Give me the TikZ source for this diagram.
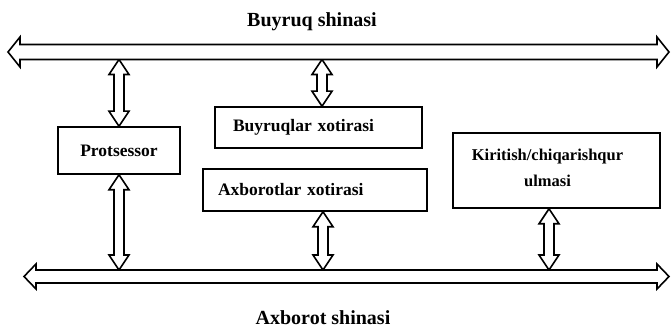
\documentclass[tikz,border=0pt]{standalone}
\usepackage{fontspec}
\setmainfont{Liberation Serif}
\usetikzlibrary{calc}

% hollow horizontal bus with heads at both ends
% #1 left tip, #2 right tip, #3 shaft half width, #4 head half width, #5 head length
\newcommand\busarrow[5]{%
  \draw[hollow] let \p1=#1, \p2=#2 in
    (\x1,\y1) -- (\x1+#5,\y1+#4) -- (\x1+#5,\y1+#3) -- (\x2-#5,\y1+#3)
    -- (\x2-#5,\y1+#4) -- (\x2,\y1) -- (\x2-#5,\y1-#4) -- (\x2-#5,\y1-#3)
    -- (\x1+#5,\y1-#3) -- (\x1+#5,\y1-#4) -- cycle;}

% hollow vertical two-headed connector, #1 upper end, #2 lower end
\newcommand\vconn[2]{%
  \draw[hollow] let \p1=#1, \p2=#2 in
    (\x1,\y1) -- (\x1+10pt,\y1-15pt) -- (\x1+5pt,\y1-15pt) -- (\x1+5pt,\y2+15pt)
    -- (\x1+10pt,\y2+15pt) -- (\x1,\y2) -- (\x1-10pt,\y2+15pt) -- (\x1-5pt,\y2+15pt)
    -- (\x1-5pt,\y1-15pt) -- (\x1-10pt,\y1-15pt) -- cycle;}

\tikzset{
  hollow/.style={draw=black, fill=white, line width=1.6pt, line join=miter},
  unit/.style={draw=black, line width=1.6pt, font=\fontsize{17.5}{24}\selectfont\bfseries,
               inner sep=0pt},
  title/.style={font=\fontsize{20}{24}\selectfont\bfseries, inner sep=0pt}
}

\begin{document}
\begin{tikzpicture}[x=1pt, y=-1pt]
  \useasboundingbox (0,0) rectangle (671,328);

  % bus end points
  \coordinate (topL) at (8,52);
  \coordinate (topR) at (669,52);
  \coordinate (topEdge) at (340,59.5);
  \coordinate (botL) at (24,276.5);
  \coordinate (botR) at (669,276.5);
  \coordinate (botEdge) at (340,270);

  % bus titles
  \node[title] (tbus) at (312,22) {Buyruq shinasi};
  \node[title] (bbus) at (323,318) {Axborot shinasi};

  % functional units
  \node[unit, minimum width=122pt, minimum height=47pt] (proc) at (119,150.5) {Protsessor};
  \node[unit, minimum height=41pt, text width=171pt, inner xsep=18pt, align=left]
       (buyr) at (318.5,127.5) {Buyruqlar xotirasi};
  \node[unit, minimum height=42pt, text width=194pt, inner xsep=15pt, align=left]
       (axb) at (315,190) {Axborotlar xotirasi};
  \node[unit, minimum width=207pt, minimum height=75pt,
        font=\fontsize{16.5}{24}\selectfont\bfseries]
       (kir) at (556.5,170.5)
       {\hspace*{-18pt}\raisebox{24pt}{\begin{tabular}{@{}c@{}}Kiritish/chiqarishqur\\[2pt]ulmasi\end{tabular}}};

  % connectors between units and buses
  \vconn{(proc.north |- topEdge)}{(proc.north)}
  \vconn{(proc.south)}{(proc.south |- botEdge)}
  \vconn{([xshift=3.5pt]buyr.north |- topEdge)}{([xshift=3.5pt]buyr.north)}
  \vconn{([xshift=8pt]axb.south)}{([xshift=8pt]axb.south |- botEdge)}
  \vconn{([xshift=-7.5pt]kir.south)}{([xshift=-7.5pt]kir.south |- botEdge)}

  % buses
  \busarrow{(topL)}{(topR)}{7.5pt}{15pt}{12pt}
  \busarrow{(botL)}{(botR)}{6.5pt}{12.5pt}{12pt}
\end{tikzpicture}
\end{document}
